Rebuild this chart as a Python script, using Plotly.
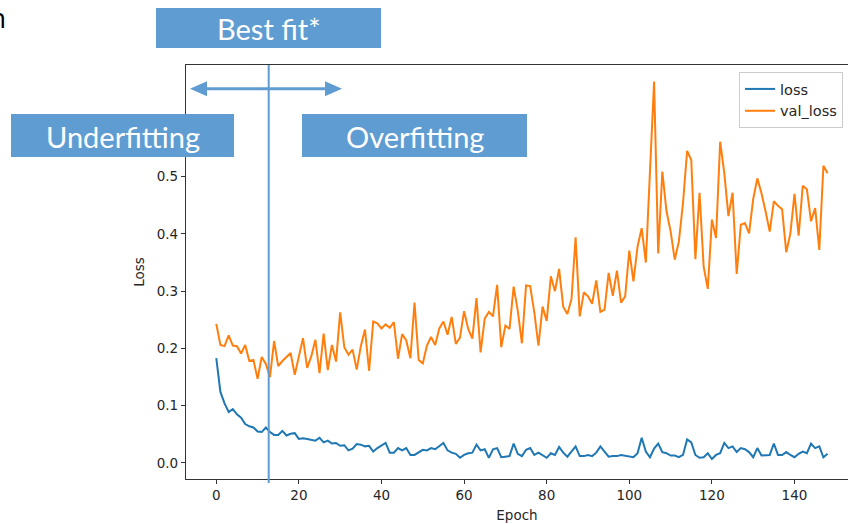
import plotly.graph_objects as go

epochs = list(range(149))

loss = [
    0.183, 0.124, 0.104, 0.089, 0.094, 0.085, 0.079, 0.068, 0.064, 0.062,
    0.055, 0.054, 0.062, 0.054, 0.049, 0.049, 0.056, 0.048, 0.051, 0.052,
    0.042, 0.043, 0.042, 0.041, 0.039, 0.044, 0.036, 0.039, 0.034, 0.035,
    0.030, 0.031, 0.022, 0.025, 0.033, 0.032, 0.029, 0.030, 0.020, 0.026,
    0.030, 0.035, 0.018, 0.018, 0.026, 0.022, 0.026, 0.014, 0.014, 0.018,
    0.023, 0.022, 0.026, 0.024, 0.029, 0.035, 0.022, 0.018, 0.016, 0.009,
    0.014, 0.017, 0.018, 0.032, 0.022, 0.024, 0.009, 0.024, 0.026, 0.010,
    0.011, 0.012, 0.034, 0.016, 0.012, 0.023, 0.026, 0.014, 0.018, 0.014,
    0.009, 0.017, 0.014, 0.028, 0.018, 0.011, 0.020, 0.029, 0.012, 0.012,
    0.014, 0.012, 0.018, 0.029, 0.020, 0.011, 0.012, 0.012, 0.014, 0.013,
    0.012, 0.010, 0.017, 0.044, 0.020, 0.010, 0.025, 0.034, 0.019, 0.017,
    0.013, 0.013, 0.010, 0.014, 0.041, 0.036, 0.014, 0.009, 0.010, 0.017,
    0.007, 0.014, 0.017, 0.035, 0.026, 0.029, 0.019, 0.026, 0.024, 0.019,
    0.010, 0.026, 0.013, 0.014, 0.014, 0.034, 0.014, 0.014, 0.019, 0.014,
    0.010, 0.016, 0.020, 0.017, 0.034, 0.026, 0.029, 0.010, 0.016,
]

val_loss = [
    0.243, 0.206, 0.204, 0.223, 0.205, 0.204, 0.191, 0.206, 0.178, 0.180,
    0.147, 0.185, 0.173, 0.150, 0.213, 0.169, 0.178, 0.185, 0.192, 0.154,
    0.186, 0.218, 0.166, 0.186, 0.215, 0.157, 0.226, 0.162, 0.206, 0.177,
    0.263, 0.202, 0.189, 0.198, 0.163, 0.204, 0.233, 0.161, 0.247, 0.244,
    0.235, 0.242, 0.236, 0.246, 0.182, 0.225, 0.214, 0.183, 0.280, 0.180,
    0.174, 0.205, 0.220, 0.206, 0.235, 0.247, 0.224, 0.255, 0.208, 0.219,
    0.265, 0.234, 0.217, 0.288, 0.193, 0.252, 0.264, 0.256, 0.311, 0.202,
    0.240, 0.234, 0.308, 0.266, 0.209, 0.310, 0.309, 0.263, 0.205, 0.273,
    0.248, 0.326, 0.300, 0.339, 0.273, 0.260, 0.286, 0.394, 0.256, 0.298,
    0.291, 0.278, 0.319, 0.264, 0.268, 0.332, 0.292, 0.336, 0.280, 0.291,
    0.371, 0.317, 0.378, 0.410, 0.350, 0.510, 0.666, 0.366, 0.509, 0.440,
    0.405, 0.355, 0.387, 0.454, 0.545, 0.529, 0.356, 0.472, 0.343, 0.304,
    0.425, 0.393, 0.561, 0.506, 0.431, 0.472, 0.330, 0.416, 0.419, 0.401,
    0.461, 0.497, 0.471, 0.439, 0.404, 0.457, 0.449, 0.443, 0.368, 0.401,
    0.470, 0.397, 0.484, 0.478, 0.422, 0.445, 0.372, 0.519, 0.506,
]

x_ticks = [0, 20, 40, 60, 80, 100, 120, 140]
y_ticks = [0.0, 0.1, 0.2, 0.3, 0.4, 0.5, 0.6]

W, H = 848, 524
ML, MR, MT, MB = 186, 0, 65, 45
PW = W - ML - MR
PH = H - MT - MB


def px(x):
    return (x - ML) / PW


def py(y):
    return (H - MB - y) / PH


BOX = "#5F9CD1"

fig = go.Figure()
fig.add_trace(go.Scatter(x=epochs, y=loss, mode="lines", name="loss",
                         line=dict(color="#1f77b4", width=2)))
fig.add_trace(go.Scatter(x=epochs, y=val_loss, mode="lines", name="val_loss",
                         line=dict(color="#ff7f0e", width=2)))

axis_font = dict(family="DejaVu Sans", size=13.5, color="#262626")

fig.update_layout(
    width=W, height=H,
    margin=dict(l=ML, r=MR, t=MT, b=MB, pad=0),
    paper_bgcolor="white", plot_bgcolor="white",
    showlegend=True,
    legend=dict(x=px(739), y=py(72), xanchor="left", yanchor="top",
                bgcolor="rgba(255,255,255,0.85)", bordercolor="#cccccc",
                borderwidth=1, font=dict(family="DejaVu Sans", size=14.5, color="#262626"),
                tracegroupgap=0, itemwidth=30),
    xaxis=dict(range=[-7.33, 152.95], tickvals=x_ticks, ticks="outside", ticklen=4,
               tickcolor="#333", showline=True, linecolor="#333", linewidth=1.2,
               mirror=True, showgrid=False, zeroline=False, tickfont=axis_font,
               title=dict(text="Epoch", font=axis_font, standoff=8)),
    yaxis=dict(range=[-0.028, 0.695], tickvals=y_ticks, tickformat=".1f",
               ticks="outside", ticklen=4, tickcolor="#333", showline=True,
               linecolor="#333", linewidth=1.2, mirror=False, showgrid=False,
               zeroline=False, tickfont=axis_font,
               title=dict(text="Loss", font=axis_font, standoff=8)),
)

shapes = []


def rect(x0, y0, x1, y1):
    shapes.append(dict(type="rect", xref="paper", yref="paper", layer="above",
                       x0=px(x0), x1=px(x1), y0=py(y1), y1=py(y0),
                       fillcolor=BOX, line=dict(width=0)))


rect(156, 8, 381, 48)
rect(11, 114, 234, 157)
rect(302, 114, 527, 157)

# vertical best-fit line
shapes.append(dict(type="line", xref="paper", yref="paper", layer="above",
                   x0=px(268.7), x1=px(268.7), y0=py(65), y1=py(483),
                   line=dict(color=BOX, width=2)))
# double arrow
ay = 88.7
shapes.append(dict(type="line", xref="paper", yref="paper", layer="above",
                   x0=px(200), x1=px(332), y0=py(ay), y1=py(ay),
                   line=dict(color=BOX, width=3)))
for tip, base in [(190, 207), (342, 325)]:
    path = "M {} {} L {} {} L {} {} Z".format(
        px(tip), py(ay), px(base), py(ay - 7.5), px(base), py(ay + 7.5))
    shapes.append(dict(type="path", xref="paper", yref="paper", layer="above",
                       path=path, fillcolor=BOX, line=dict(width=0)))

fig.update_layout(shapes=shapes)

label_font = dict(family="Lato", size=29, color="white")
for text, cx, cy in [("Best fit*", 268.5, 28), ("Underfitting", 122.5, 136),
                     ("Overfitting", 414.5, 136)]:
    fig.add_annotation(text=text, xref="paper", yref="paper", x=px(cx), y=py(cy),
                       xanchor="center", yanchor="middle", showarrow=False,
                       font=label_font)

fig.add_annotation(text="n", xref="paper", yref="paper", x=px(8), y=py(-4),
                   xanchor="right", yanchor="top", showarrow=False,
                   font=dict(family="Open Sans", size=28, color="black"))

fig.write_html("out.html",
               config={"displayModeBar": False},
               post_script="document.body.style.margin='0';"
                           "document.body.style.overflow='hidden';")
